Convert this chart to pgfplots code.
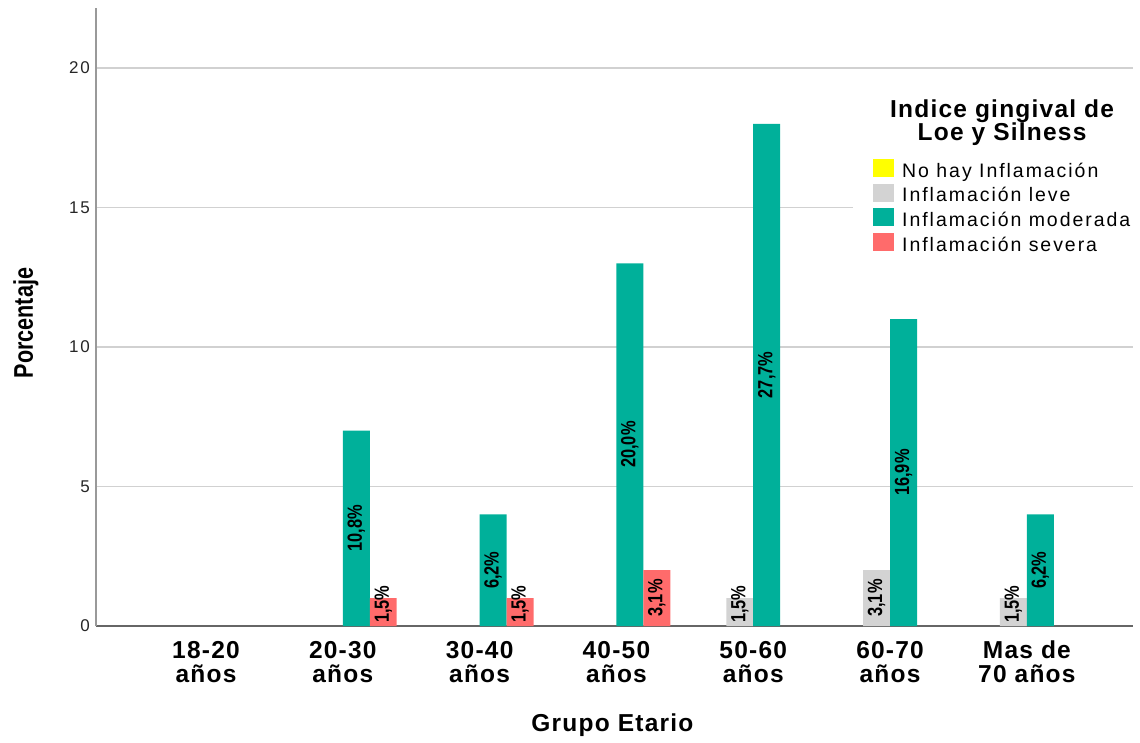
\documentclass[border=0pt]{standalone}
\usepackage{fontspec}
\usepackage{pgfplots}
\pgfplotsset{compat=1.18}
\setmainfont{Liberation Sans}
\newfontfamily\spaced[LetterSpace=10]{Liberation Sans}
\newfontfamily\spacedb[LetterSpace=5]{Liberation Sans}
\newfontfamily\narrow[FakeStretch=0.8]{Liberation Sans}
\definecolor{cyel}{HTML}{FFFF00}
\definecolor{cgry}{HTML}{D3D3D3}
\definecolor{cteal}{HTML}{00B09A}
\definecolor{cred}{HTML}{FF6B6B}
\newcommand\tickfont{\spaced\fontsize{17}{18}\selectfont}
\newcommand\catfont{\spacedb\bfseries\fontsize{24.5}{24}\selectfont}
\newcommand\legfont{\spaced\fontsize{19.5}{21}\selectfont}
\newcommand\barfont{\narrow\bfseries\fontsize{20.5}{21}\selectfont}
\newcommand\ylabfont{\narrow\bfseries\fontsize{27}{28}\selectfont}
\pgfplotsset{
  sq legend/.style={legend image code/.code={\fill[##1] (0pt,-5pt) rectangle (21pt,13pt);}},
  mybar/.style={ybar, bar width=0.197, draw=none, sq legend},
  barlab/.style={draw=none, mark=none, forget plot, nodes near coords, point meta=explicit symbolic,
    nodes near coords style={rotate=90, anchor=center, font=\barfont, inner sep=0pt, text=black}},
}
\begin{document}
\begin{tikzpicture}
\useasboundingbox (-96pt,-116pt) rectangle (1044pt,626pt);
\begin{axis}[
  scale only axis, width=1037pt, height=618pt,
  xmin=-0.804, xmax=6.776, ymin=0, ymax=22.15,
  axis x line*=bottom, axis y line*=left,
  x axis line style={draw=black!60, line width=1.5pt, -},
  y axis line style={draw=black!40, line width=2pt, -},
  xtick={0,1,2,3,4,5,6},
  xticklabels={{18-20\\años},{20-30\\años},{30-40\\años},{40-50\\años},{50-60\\años},{60-70\\años},{Mas de\\70 años}},
  xticklabel style={align=center, font=\catfont, inner sep=0pt, anchor=north, yshift=-15pt},
  ytick={0,5,10,15,20},
  yticklabel style={font=\tickfont, inner sep=0pt, anchor=east, xshift=-6pt, text=black!85},
  /pgf/number format/assume math mode=true,
  major tick length=0pt,
  ymajorgrids, major grid style={draw=black!18, line width=1.5pt},
  xlabel={Grupo Etario}, ylabel={Porcentaje},
  xlabel style={font=\catfont, at={(axis description cs:0.498,-0.1715)}, anchor=base},
  ylabel style={font=\ylabfont, at={(axis description cs:-0.0608,0.49)}, anchor=base},
  legend style={at={(rel axis cs:0.7300,0.7620)}, anchor=north west, draw=none, fill=white,
    inner xsep=20pt, inner ysep=4pt, font=\legfont, row sep=1.6pt,
    nodes={inner sep=0pt, text height=15pt, text depth=5pt},
    /tikz/every odd column/.append style={column sep=8pt}},
  legend cell align=left,
]
\addlegendimage{sq legend, fill=cyel, draw=none}
\addlegendentry{No hay Inflamación}
\addplot[mybar, bar shift=-0.0985, fill=cgry] coordinates {(4,1) (5,2) (6,1)};
\addlegendentry{Inflamación leve}
\addplot[mybar, bar shift=0.0985, fill=cteal] coordinates {(1,7) (2,4) (3,13) (4,18) (5,11) (6,4)};
\addlegendentry{Inflamación moderada}
\addplot[mybar, bar shift=0.2955, fill=cred] coordinates {(1,1) (2,1) (3,2)};
\addlegendentry{Inflamación severa}
% labels
\addplot[barlab] coordinates {(3.9015,0.78) [1,5\%] (4.9015,1.0) [3,1\%] (5.9015,0.78) [1,5\%]};
\addplot[barlab] coordinates {(1.0985,3.5) [10,8\%] (2.0985,2.0) [6,2\%] (3.0985,6.5) [20,0\%] (4.0985,9.0) [27,7\%] (5.0985,5.5) [16,9\%] (6.0985,2.0) [6,2\%]};
\addplot[barlab] coordinates {(1.2955,0.78) [1,5\%] (2.2955,0.78) [1,5\%] (3.2955,1.0) [3,1\%]};
\node[font=\catfont, anchor=base] at (rel axis cs:0.8737,0.8236) {Indice gingival de};
\node[font=\catfont, anchor=base] at (rel axis cs:0.8737,0.7848) {Loe y Silness};
\end{axis}
\end{tikzpicture}
\end{document}
